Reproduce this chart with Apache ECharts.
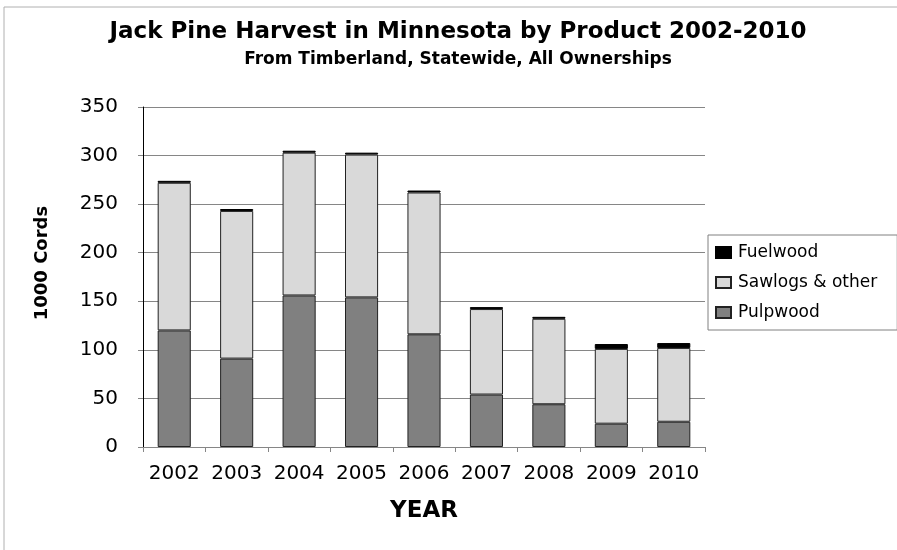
<!DOCTYPE html>
<html>
<head>
<meta charset="utf-8">
<script src="https://cdn.jsdelivr.net/npm/echarts@6/dist/echarts.min.js"></script>
<style>
  html, body { margin: 0; padding: 0; background: #fff; }
  #main { width: 897px; height: 550px; }
</style>
</head>
<body>
<div id="main"></div>
<script>
// data (1000 cords)
var years = ['2002', '2003', '2004', '2005', '2006', '2007', '2008', '2009', '2010'];
var pulpwood = [120, 91, 156, 154, 116, 54, 44, 24, 26];
var sawlogs = [152, 152, 147, 147, 146, 88, 88, 77, 76];
var fuelwood = [2, 2, 2, 2, 2, 2, 2, 5, 5];
var yTicks = [0, 50, 100, 150, 200, 250, 300, 350];

var font = '"DejaVu Sans", sans-serif';
var chart = echarts.init(document.getElementById('main'));

chart.setOption({
    animation: false,
    graphic: [
        {
            type: 'rect',
            shape: { x: 4, y: 7, width: 900, height: 560 },
            style: { fill: 'none', stroke: '#b0b0b0', lineWidth: 1 }
        }
    ],
    title: [
        {
            text: 'Jack Pine Harvest in Minnesota by Product 2002-2010',
            left: 453, top: 16, textAlign: 'center',
            textStyle: { fontFamily: font, fontSize: 23, fontWeight: 'bold', color: '#000' }
        },
        {
            text: 'From Timberland, Statewide, All Ownerships',
            left: 453, top: 46, textAlign: 'center',
            textStyle: { fontFamily: font, fontSize: 17, fontWeight: 'bold', color: '#000' }
        }
    ],
    legend: {
        orient: 'vertical',
        left: 708, top: 235,
        data: ['Fuelwood', 'Sawlogs & other', 'Pulpwood'],
        icon: 'rect',
        itemWidth: 15, itemHeight: 11, itemGap: 13,
        padding: [9, 20, 9, 7],
        borderColor: '#808080', borderWidth: 1,
        textStyle: { fontFamily: font, fontSize: 17, color: '#000', padding: [0, 0, 0, 2] }
    },
    grid: { left: 143, right: 192, top: 107, bottom: 103 },
    xAxis: {
        type: 'category',
        data: years,
        name: 'YEAR',
        nameLocation: 'middle',
        nameGap: 53,
        nameTextStyle: { fontFamily: font, fontSize: 23, fontWeight: 'bold', color: '#000' },
        axisLine: { lineStyle: { color: '#868686' } },
        axisTick: { show: true, length: 5, lineStyle: { color: '#868686' } },
        axisLabel: { interval: 0, fontFamily: font, fontSize: 20, color: '#000', margin: 17 }
    },
    yAxis: {
        type: 'value',
        min: yTicks[0], max: yTicks[yTicks.length - 1], interval: 50,
        name: '1000 Cords',
        nameLocation: 'middle',
        nameGap: 92,
        nameTextStyle: { fontFamily: font, fontSize: 18, fontWeight: 'bold', color: '#000', padding: [0, 0, 0, 28] },
        axisLine: { show: true, lineStyle: { color: '#000' } },
        axisTick: { show: true, length: 5, lineStyle: { color: '#868686' } },
        axisLabel: { fontFamily: font, fontSize: 20, color: '#000', margin: 25 },
        splitLine: { lineStyle: { color: '#868686' } }
    },
    series: [
        {
            name: 'Pulpwood', type: 'bar', stack: 'all', data: pulpwood,
            barWidth: '53%',
            itemStyle: { color: '#808080', borderColor: '#222', borderWidth: 1 }
        },
        {
            name: 'Sawlogs & other', type: 'bar', stack: 'all', data: sawlogs,
            itemStyle: { color: '#d9d9d9', borderColor: '#222', borderWidth: 1 }
        },
        {
            name: 'Fuelwood', type: 'bar', stack: 'all', data: fuelwood,
            itemStyle: { color: '#000', borderColor: '#000', borderWidth: 1 }
        }
    ]
});
</script>
</body>
</html>
